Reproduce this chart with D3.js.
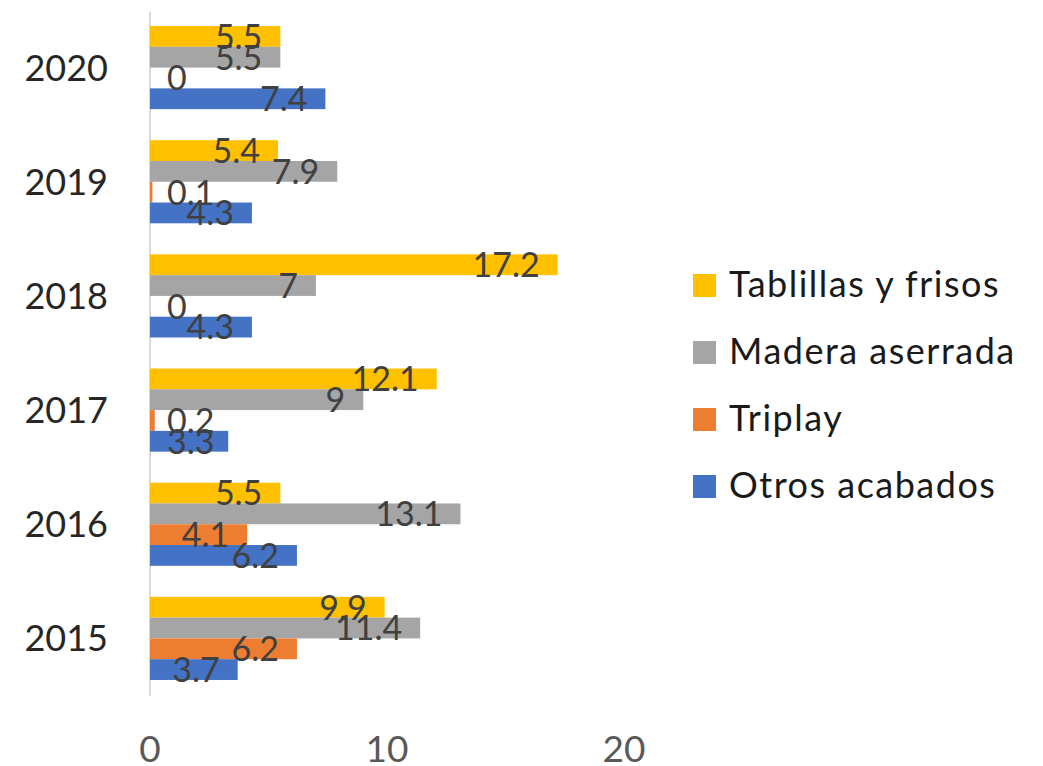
<!DOCTYPE html>
<html>
<head>
<meta charset="utf-8">
<script src="https://cdn.jsdelivr.net/npm/d3@7"></script>
<style>
  body { margin: 0; background: #fff; }
  text { font-family: Lato, "Open Sans", sans-serif; font-weight: 400; }
</style>
</head>
<body>
<div id="container"></div>
<script>
//Data
var years = ["2020", "2019", "2018", "2017", "2016", "2015"];
var seriesNames = ["Tablillas y frisos", "Madera aserrada", "Triplay", "Otros acabados"];
var seriesColors = ["#FFC000", "#A5A5A5", "#ED7D31", "#4472C4"];
var tablillas = [5.5, 5.4, 17.2, 12.1, 5.5, 9.9];
var madera = [5.5, 7.9, 7, 9, 13.1, 11.4];
var triplay = [0, 0.1, 0, 0.2, 4.1, 6.2];
var otros = [7.4, 4.3, 4.3, 3.3, 6.2, 3.7];
var xTicks = [0, 10, 20];

var seriesValues = [tablillas, madera, triplay, otros];

var width = 1043,
    height = 766;

var svg = d3.select("#container").append("svg")
    .attr("width", width)
    .attr("height", height);

//Scales
var x = d3.scaleLinear().domain([0, 20]).range([150, 624]);
var y = d3.scaleBand().domain(years).range([10.5, 695.5]);

//The 4 bars of a year take about 73% of its band
var groupH = y.bandwidth() * 0.728;
var inner = d3.scaleBand().domain(d3.range(seriesNames.length))
    .range([(y.bandwidth() - groupH) / 2, (y.bandwidth() + groupH) / 2]);

//Axis line
svg.append("line")
    .attr("x1", x(0)).attr("x2", x(0))
    .attr("y1", 12).attr("y2", 696)
    .attr("stroke", "#D9D9D9").attr("stroke-width", 2);

//Bars
var groups = svg.selectAll(".year")
    .data(years)
    .enter().append("g")
    .attr("class", "year")
    .attr("transform", function (d) { return "translate(0," + y(d) + ")"; });

groups.selectAll("rect")
    .data(function (d, i) {
        return seriesValues.map(function (vals, s) { return { s: s, v: vals[i] }; });
    })
    .enter().append("rect")
    .attr("x", x(0))
    .attr("y", function (d) { return inner(d.s); })
    .attr("width", function (d) { return x(d.v) - x(0); })
    .attr("height", inner.bandwidth())
    .attr("fill", function (d) { return seriesColors[d.s]; });

//Value labels, inside end of each bar
groups.selectAll(".lbl")
    .data(function (d, i) {
        return seriesValues.map(function (vals, s) { return { s: s, v: vals[i] }; });
    })
    .enter().append("text")
    .attr("class", "lbl")
    .attr("font-size", 34)
    .attr("fill", "#404040")
    .attr("y", function (d) { return inner(d.s) + inner.bandwidth() + 2; })
    .text(function (d) { return d.v; })
    .attr("x", function (d) {
        var w = this.getComputedTextLength();
        var end = x(d.v) - 18;
        return Math.max(end - w, x(0) + 17);
    });

//Year labels
svg.selectAll(".ylab")
    .data(years)
    .enter().append("text")
    .attr("class", "ylab")
    .attr("x", 108)
    .attr("y", function (d) { return y(d) + y.bandwidth() / 2 + 13; })
    .attr("text-anchor", "end")
    .attr("font-size", 36)
    .attr("fill", "#262626")
    .text(function (d) { return d; });

//X tick labels
svg.selectAll(".xlab")
    .data(xTicks)
    .enter().append("text")
    .attr("class", "xlab")
    .attr("x", function (d) { return x(d); })
    .attr("y", 762)
    .attr("text-anchor", "middle")
    .attr("font-size", 37)
    .attr("fill", "#595959")
    .text(function (d) { return d; });

//Legend
var legend = svg.selectAll(".legend")
    .data(seriesNames)
    .enter().append("g")
    .attr("class", "legend")
    .attr("transform", function (d, i) { return "translate(693," + (297 + i * 67) + ")"; });

legend.append("rect")
    .attr("x", 0).attr("y", -23)
    .attr("width", 23).attr("height", 23)
    .attr("fill", function (d, i) { return seriesColors[i]; });

legend.append("text")
    .attr("x", 36)
    .attr("y", 0)
    .attr("font-size", 36)
    .attr("letter-spacing", 1.5)
    .attr("fill", "#1a1a1a")
    .text(function (d) { return d; });
</script>
</body>
</html>
